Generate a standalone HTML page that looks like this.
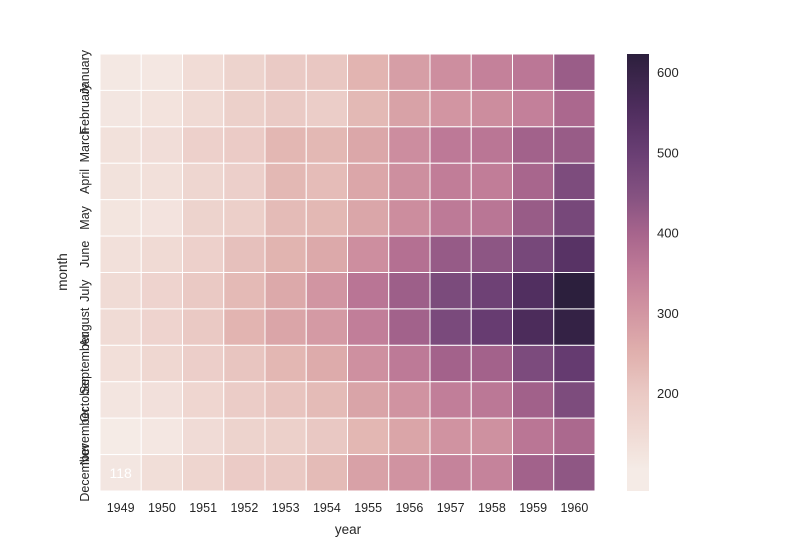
<!DOCTYPE html><html><head><style>body{margin:0;background:#fff}svg{display:block;font-family:"Liberation Sans",sans-serif}</style></head><body>
<svg id="s" width="800" height="547" xmlns="http://www.w3.org/2000/svg"></svg>
<script>
(function(){
const d=[[112,118,132,129,121,135,148,148,136,119,104,118],[115,126,141,135,125,149,170,170,158,133,114,140],[145,150,178,163,172,178,199,199,184,162,146,166],[171,180,193,181,183,218,230,242,209,191,172,194],[196,196,236,235,229,243,264,272,237,211,180,201],[204,188,235,227,234,264,302,293,259,229,203,229],[242,233,267,269,270,315,364,347,312,274,237,278],[284,277,317,313,318,374,413,405,355,306,271,306],[315,301,356,348,355,422,465,467,404,347,305,336],[340,318,362,348,363,435,491,505,404,359,310,337],[360,342,406,396,420,472,548,559,463,407,362,405],[417,391,419,461,472,535,622,606,508,461,390,432]];
var st=[[104,[245,235,230]],[150,[240,218,212]],[200,[234,201,196]],[250,[224,176,173]],[300,[210,150,162]],[350,[192,124,152]],[400,[166,100,140]],[450,[130,80,128]],[500,[105,62,115]],[550,[80,46,95]],[622,[44,31,61]]];
function c(v){for(var i=0;i<st.length-1;i++){var a=st[i][0],ca=st[i][1],b=st[i+1][0],cb=st[i+1][1];if(v<=b){var t=(v-a)/(b-a);return'rgb('+ca.map(function(x,k){return Math.round(x+(cb[k]-x)*t)}).join()+')'}}return'rgb(44,31,61)'}
var m=["January","February","March","April","May","June","July","August","September","October","November","December"];
var h='',X0=100,X1=595,Y0=54,Y1=491,cw=(X1-X0)/12,rh=(Y1-Y0)/12;
for(var y=0;y<12;y++)for(var r=0;r<12;r++)h+='<rect x="'+(X0+y*cw)+'" y="'+(Y0+r*rh)+'" width="'+cw+'" height="'+rh+'" fill="'+c(d[y][r])+'" stroke="#fff" stroke-width="1"/>';
h+='<text x="'+(X0+cw/2)+'" y="'+(Y0+11.5*rh+5)+'" font-size="14" fill="#fff" text-anchor="middle">118</text>';
for(var y=0;y<12;y++)h+='<text x="'+(X0+(y+.5)*cw)+'" y="512" font-size="12.5" fill="#262626" text-anchor="middle">'+(1949+y)+'</text>';
for(var r=0;r<12;r++){var cy=Y0+(r+.5)*rh;h+='<text transform="translate(89,'+cy+') rotate(-90)" font-size="12.5" fill="#262626" text-anchor="middle">'+m[r]+'</text>'}
h+='<text x="348" y="534" font-size="13.5" fill="#262626" text-anchor="middle">year</text>';
h+='<text transform="translate(67,272) rotate(-90)" font-size="13.5" fill="#262626" text-anchor="middle">month</text>';
h+='<defs><linearGradient id="g" x1="0" y1="1" x2="0" y2="0">';
var tp=622,bt=600-(491-72)/0.8025;
for(var i=0;i<=40;i++){var v=bt+(tp-bt)*i/40;h+='<stop offset="'+(i/40)+'" stop-color="'+c(Math.max(104,v))+'"/>'}
h+='</linearGradient></defs><rect x="627" y="54" width="22" height="437" fill="url(#g)"/>';
[200,300,400,500,600].forEach(function(v){var yy=72+(600-v)*0.8025;h+='<text x="657" y="'+(yy+5)+'" font-size="13" fill="#262626">'+v+'</text>'});
document.getElementById('s').innerHTML=h;
})();
</script></body></html>
